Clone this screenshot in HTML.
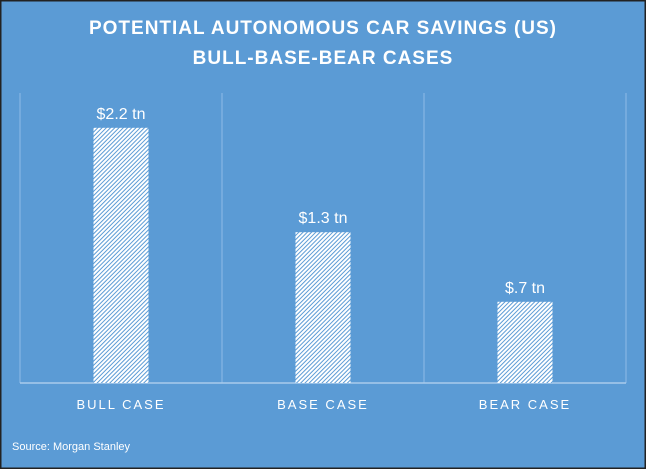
<!DOCTYPE html>
<html><head><meta charset="utf-8"><style>
body{margin:0;background:#fff}
svg{display:block;font-family:"Liberation Sans",sans-serif}
</style></head><body>
<svg id="c" width="646" height="469">
<defs><pattern id="h" patternUnits="userSpaceOnUse" width="3" height="3" patternTransform="rotate(45)">
<rect width="3" height="3" fill="#fff"/><rect width="1" height="3" fill="#5b9bd5"/></pattern></defs>
<rect x="0" y="0" width="646" height="469" fill="#5b9bd5" stroke="#222" stroke-width="3"/>
<text x="323" y="34" fill="#fff" font-size="19" font-weight="bold" text-anchor="middle" letter-spacing="1">POTENTIAL AUTONOMOUS CAR SAVINGS (US)</text>
<text x="323" y="64" fill="#fff" font-size="19" font-weight="bold" text-anchor="middle" letter-spacing="1">BULL-BASE-BEAR CASES</text>
<text x="12" y="450" fill="#fff" font-size="11">Source: Morgan Stanley</text>
<g id="plot"></g>
</svg>
<script>
const categories=["BULL CASE","BASE CASE","BEAR CASE"];
const values=[2.2,1.3,0.7];
const valueLabels=["$2.2 tn","$1.3 tn","$.7 tn"];
const L=20,R=626,T=93,B=383,yMax=2.5;
const band=(R-L)/categories.length;
const y=v=>B-(v/yMax)*(B-T);
const g=document.getElementById('plot');
const NS="http://www.w3.org/2000/svg";
function mk(t,a){const e=document.createElementNS(NS,t);for(const k in a)e.setAttribute(k,a[k]);g.appendChild(e);return e;}
for(let i=0;i<=categories.length;i++){
const l=mk('line',{x1:L+i*band,x2:L+i*band,y1:T,y2:B,stroke:'#8fbbe6','stroke-width':1});


}
const ax=mk('line',{x1:L,x2:R,y1:B,y2:B,stroke:'#a9cbec','stroke-width':1.5});


categories.forEach((c,i)=>{
const cx=L+band*(i+0.5),w=55;
const r=mk('rect',{x:cx-w/2,y:y(values[i]),width:w,height:B-y(values[i]),fill:'url(#h)'});


const t=mk('text',{x:cx,y:y(values[i])-9,fill:'#fff','font-size':16,'text-anchor':'middle'});
t.textContent=valueLabels[i];


const xl=mk('text',{x:cx,y:409,fill:'#fff','font-size':13,'text-anchor':'middle','letter-spacing':2});
xl.textContent=c;


});
</script>
</body></html>
